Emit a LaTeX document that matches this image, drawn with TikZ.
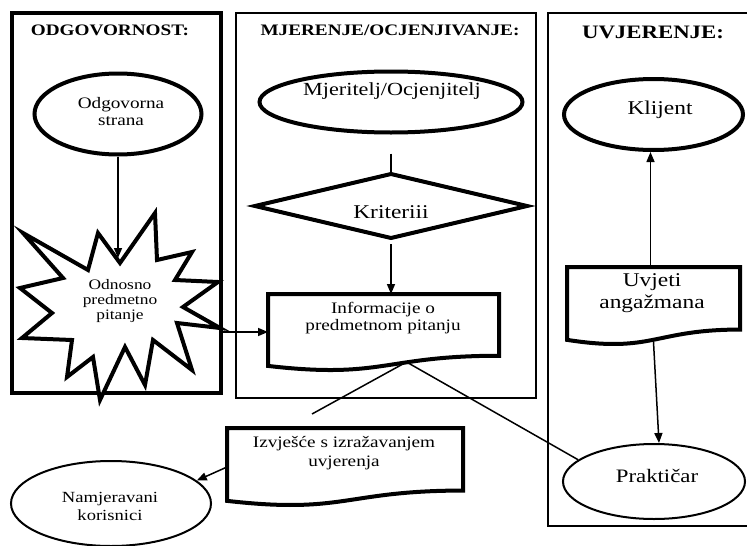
\documentclass[tikz,border=0pt]{standalone}
\usepackage{fontspec}
\setmainfont[FakeStretch=1.2]{Liberation Serif}
\usetikzlibrary{shapes.geometric,arrows.meta,calc}

\newcommand{\fs}[2]{\fontsize{#1}{#2}\selectfont}
% outline of a flow-chart "document" shape, drawn on the box of a node
\newcommand{\docoutline}[1]{%
  \draw[heavy] (#1.north west) -- (#1.north east)
    -- ($(#1.north east)!0.802!(#1.south east)$)
    .. controls ($(#1.north)!0.802!(#1.south)$) and ($(#1.north)!1.107!(#1.south)$)
    .. ($(#1.north west)!0.934!(#1.south west)$) -- cycle;}
% outline of a decision diamond, drawn on the box of a node
\newcommand{\diamondoutline}[1]{%
  \draw[heavy] (#1.west) -- (#1.north) -- (#1.east) -- (#1.south) -- cycle;}

\tikzset{
  panelthick/.style={line width=4pt},
  panelthin/.style={line width=2pt},
  heavy/.style={draw, line width=4pt},
  light/.style={draw, line width=2pt},
  oval/.style={ellipse, inner sep=0pt},
  docbox/.style={rectangle, inner sep=0pt, outer sep=0pt},
  label text/.style={align=center, inner sep=0pt},
  conn/.style={line width=1.5pt},
  arr/.style={conn, -{Triangle[length=10pt,width=8pt]}},
  heading/.style={font=\bfseries\fs{16}{18}},
}

\begin{document}
\begin{tikzpicture}[x=1pt,y=-1pt]
\useasboundingbox (0,0) rectangle (747,546);
\clip (0,0) rectangle (747,546);

% three column frames
\draw[panelthick] (12,13) rectangle (221,393);
\draw[panelthin] (236,13) rectangle (536,398);
\draw[panelthin] (548,13) rectangle (770,526);

\node[heading] (h1) at (110,30) {ODGOVORNOST:};
\node[heading] (h2) at (390,30) {MJERENJE/OCJENJIVANJE:};
\node[heading, font=\bfseries\fs{19}{21}] (h3) at (653,32) {UVJERENJE:};

% left column
\node[oval, heavy, minimum width=167, minimum height=81] (odg) at (118,114) {};
\node[label text, font=\fs{16}{17}] (odg-t) at (121,111.5) {Odgovorna\\strana};

\draw[heavy, fill=white] (23,233) -- (88,270) -- (98,233) -- (120,263) -- (155,213)
  -- (157,260) -- (192,252) -- (175,280) -- (218,282) -- (183,307) -- (220,328)
  -- (177,323) -- (192,370) -- (153,340) -- (145,385) -- (125,347) -- (100,400)
  -- (93,357) -- (67,377) -- (72,340) -- (22,338) -- (52,313) -- (20,288)
  -- (63,278) -- cycle;
\node[label text, font=\fs{14.5}{15}] (star) at (120,301) {Odnosno\\predmetno\\pitanje};
\coordinate (star-top) at (118,258);
\coordinate (star-right) at (220,332);

% middle column
\node[oval, heavy, minimum width=263, minimum height=61] (mjer) at (391,102) {};
\node[label text, font=\fs{18.5}{20}] (mjer-t) at (392,91) {Mjeritelj/Ocjenjitelj};

\node[docbox, minimum width=272, minimum height=64] (krit) at (391,206) {};
\diamondoutline{krit}
\node[label text, font=\fs{19.5}{21}] (krit-t) at (391,212) {Kriteriii};

\node[docbox, minimum width=231, minimum height=77] (info) at (383.5,332.5) {};
\docoutline{info}
\node[label text, font=\fs{16}{16.5}] (info-t) at (383,318) {Informacije o\\predmetnom pitanju};
\coordinate (info-low) at ($(info.south)+(23,-9)$);

% right column
\node[oval, heavy, minimum width=179, minimum height=71] (klij) at (653.5,114.5) {};
\node[label text, font=\fs{19.5}{21}] (klij-t) at (660,110) {Klijent};

\node[docbox, minimum width=173, minimum height=78] (uvj) at (653.5,306) {};
\docoutline{uvj}
\node[label text, font=\fs{19.5}{22}] (uvj-t) at (652,293) {Uvjeti\\angažmana};

\node[oval, light, minimum width=182, minimum height=75] (prak) at (654,481.5) {};
\node[label text, font=\fs{19}{21}] (prak-t) at (657,476) {Praktičar};

% report and users
\node[docbox, minimum width=236, minimum height=78] (izv) at (345,467) {};
\docoutline{izv}
\node[label text, font=\fs{16}{19}] (izv-t) at (344,453) {Izvješće s izražavanjem\\uvjerenja};

\node[oval, light, minimum width=200, minimum height=85] (namj) at (111,503.5) {};
\node[label text, font=\fs{15.5}{18}] (namj-t) at (110,506) {Namjeravani\\korisnici};

\coordinate (loose-end) at (312,414);

% connectors
\draw[arr] (odg.south) -- (star-top);
\draw[arr] (star-right) -- (star-right -| info.west);
\draw[conn] ($(mjer.south)+(0,19)$) -- ($(krit.north)+(0,2)$);
\draw[arr] ($(krit.south)+(0,6)$) -- ($(krit.south)!1!(krit.south |- info.north)$);
\draw[conn] (info-low) -- (loose-end);
\draw[conn] (info-low) -- (prak.164);
\draw[arr] ($(uvj.north)+(-3,0)$) -- ($(klij.south)+(-3,0)$);
\draw[arr] ($(uvj.south)+(0,-3)$) -- ($(prak.north)+(5,0)$);
\draw[arr] (izv.west) -- (namj.15);
\end{tikzpicture}
\end{document}
